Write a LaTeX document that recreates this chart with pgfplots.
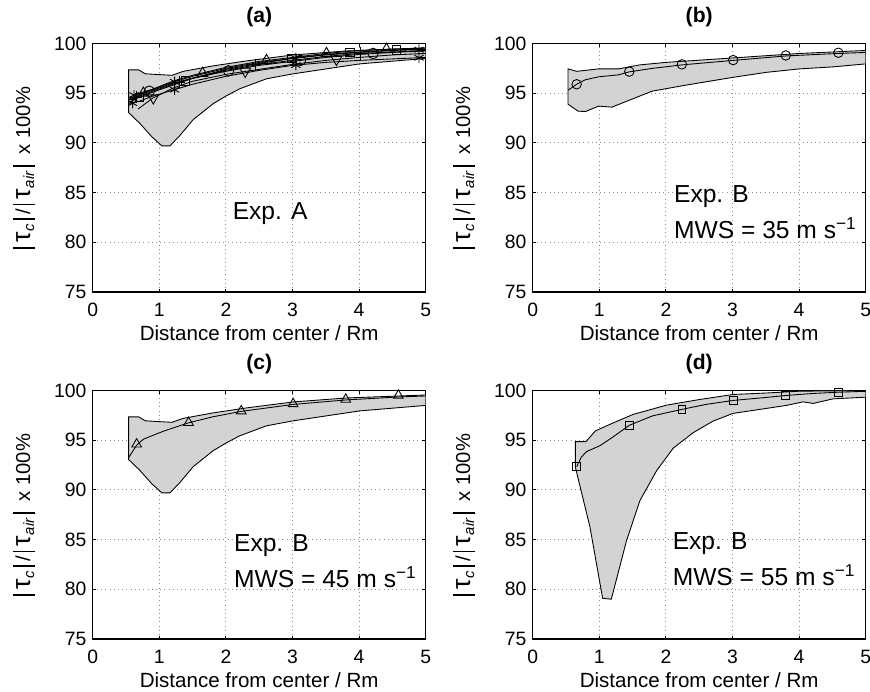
\documentclass[border=0pt]{standalone}
\usepackage{fontspec}
\setmainfont{Liberation Sans}
\usepackage{pgfplots}
\pgfplotsset{compat=1.18}
\definecolor{envgray}{RGB}{211,211,211}
\newcommand{\vb}{\rule[-3pt]{0.9pt}{12.5pt}}
\newcommand{\tauf}{{\fontsize{15}{15}\selectfont τ}}
\newcommand{\sub}[1]{\raisebox{-2.2pt}{\fontsize{8.5}{8.5}\selectfont\itshape #1}}

\tikzset{note/.style={anchor=west, font=\fontsize{14}{16}\selectfont}}

\pgfplotsset{
  panel/.style={
    scale only axis,
    width=6.66cm, height=4.97cm,
    xmin=0, xmax=5, ymin=75, ymax=100,
    xtick={0,1,2,3,4,5}, ytick={75,80,85,90,95,100},
    axis line style={line width=0.6pt},
    major tick length=0.07cm,
    tick style={black, line width=0.5pt},
    grid=major,
    grid style={dotted, gray!90, line width=0.5pt},
    /pgf/number format/assume math mode=true,
    xticklabel style={font=\fontsize{11}{12}\selectfont, yshift=-3pt},
    yticklabel style={font=\fontsize{11}{12}\selectfont},
    xlabel={Distance from center / Rm},
    every axis x label/.style={at={(axis description cs:0.5,-0.165)}, anchor=center,
                               font=\fontsize{11.7}{13}\selectfont},
    ylabel={\vb\kern2.5pt\tauf\kern0.5pt\sub{c}\kern2.5pt\vb\kern2pt/\kern2pt\vb\kern2.5pt\tauf\kern0.5pt\sub{air}\kern2.5pt\vb\ \ x 100\%},
    every axis y label/.style={at={(axis description cs:-0.205,0.5)}, rotate=90, anchor=center,
                               font=\fontsize{11.5}{13}\selectfont},
    every axis title/.style={at={(axis description cs:0.5,1)}, anchor=center, yshift=0.53cm,
                             font=\fontsize{12}{14}\selectfont\bfseries},
  },
  env/.style={fill=envgray, draw=black, line width=0.5pt},
  ln/.style={black, line width=0.5pt, mark=none},
  mk/.style={black, only marks, line width=0.5pt},
}

\begin{document}
\begin{tikzpicture}
\useasboundingbox (0,0) rectangle (17.4,-13.82);

% ---------------- (a) ----------------
\begin{axis}[panel, title={(a)}, at={(1.854cm,-5.84cm)}, anchor=south west]
\addplot[env] coordinates {
  (0.54,97.35) (0.69,97.35) (0.79,96.95) (1.19,96.8) (1.36,97.2) (1.81,97.75)
  (2.31,98.25) (3.01,98.85) (3.81,99.25) (5.0,99.55)
  (5.0,98.5) (4.01,97.95) (3.51,97.45) (3.01,96.95) (2.61,96.45) (2.21,95.45)
  (2.01,94.75) (1.81,93.95) (1.51,92.35) (1.31,90.75) (1.16,89.7) (1.04,89.7)
  (0.89,90.6) (0.71,91.95) (0.54,93.05)
} -- cycle;
% asterisk, lowest
\addplot[ln] coordinates {(0.55,93.9) (0.7,94.2) (0.9,94.7) (1.2,95.3) (1.5,95.9) (2.0,96.7) (2.5,97.3) (3.0,97.8) (3.5,98.1) (4.0,98.3) (4.5,98.45) (5.0,98.6)};
\addplot[mk, mark=asterisk, mark size=3pt] coordinates {(0.60,94.0) (1.23,95.35) (3.05,97.83) (4.90,98.57)};
% plus
\addplot[ln] coordinates {(0.55,94.3) (0.7,94.7) (0.9,95.2) (1.2,95.9) (1.5,96.5) (2.0,97.3) (2.5,97.9) (3.0,98.3) (3.5,98.7) (4.0,99.0) (4.5,99.15) (5.0,99.3)};
\addplot[mk, mark=+, mark size=3.5pt] coordinates {(0.65,94.6) (1.30,96.1) (2.44,97.85) (4.02,99.0)};
% triangle up
\addplot[ln] coordinates {(0.55,94.0) (0.7,94.8) (0.9,95.4) (1.2,96.2) (1.5,96.8) (2.0,97.6) (2.5,98.2) (3.0,98.6) (3.5,99.0) (4.0,99.3) (4.5,99.45) (5.0,99.55)};
\addplot[mk, mark=triangle, mark size=3.5pt] coordinates {(0.76,95.0) (1.65,97.0) (2.61,98.29) (3.51,99.0) (4.41,99.42)};
% triangle down
\addplot[ln] coordinates {(0.68,93.4) (0.9,94.5) (1.2,95.5) (1.5,96.2) (2.0,96.9) (2.5,97.4) (3.0,97.9) (3.5,98.3) (4.0,98.6) (4.5,98.85) (5.0,99.0)};
\addplot[mk, mark=triangle, mark size=3.5pt, mark options={rotate=180}] coordinates {(0.91,94.53) (2.29,97.2) (3.66,98.4)};
% circle
\addplot[ln] coordinates {(0.55,94.4) (0.7,94.9) (0.9,95.3) (1.2,96.0) (1.5,96.5) (2.0,97.2) (2.5,97.8) (3.0,98.2) (3.5,98.6) (4.0,98.9) (4.5,99.1) (5.0,99.25)};
\addplot[mk, mark=o, mark size=3pt] coordinates {(0.85,95.2) (2.04,97.25) (3.12,98.3) (4.21,99.0)};
% square
\addplot[ln] coordinates {(0.55,94.1) (0.7,94.6) (0.9,95.1) (1.2,95.8) (1.5,96.5) (2.0,97.4) (2.5,98.0) (3.0,98.5) (3.5,98.9) (4.0,99.15) (4.5,99.35) (5.0,99.45)};
\addplot[mk, mark=square, mark size=2.4pt] coordinates {(0.70,94.6) (1.39,96.25) (2.99,98.5) (3.86,99.08) (4.56,99.36)};
% asterisk, upper
\addplot[ln] coordinates {(0.55,94.6) (0.7,95.0) (0.9,95.4) (1.2,96.1) (1.5,96.7) (2.0,97.5) (2.5,98.1) (3.0,98.5) (3.5,98.85) (4.0,99.1) (4.5,99.3) (5.0,99.4)};
\addplot[mk, mark=asterisk, mark size=3pt] coordinates {(0.62,94.8) (1.23,96.15) (3.05,98.53) (4.90,99.38)};
\node[note] at (axis cs:2.01,82.9) {Exp. A};
\end{axis}

% ---------------- (b) ----------------
\begin{axis}[panel, title={(b)}, at={(10.654cm,-5.84cm)}, anchor=south west]
\addplot[env] coordinates {
  (0.53,97.45) (0.66,97.2) (0.99,97.45) (1.29,97.45) (1.61,97.85) (2.0,98.1)
  (3.01,98.55) (4.01,99.0) (5.0,99.3)
  (5.0,97.95) (4.51,97.65) (4.01,97.45) (3.51,97.1) (3.01,96.6) (2.29,95.8)
  (1.79,95.2) (1.49,94.4) (1.19,93.6) (0.99,93.7) (0.79,93.15) (0.68,93.2) (0.53,93.9)
} -- cycle;
\addplot[ln] coordinates {(0.53,95.3) (0.66,95.9) (0.79,96.35) (0.99,96.65) (1.29,96.85) (1.45,97.15) (1.8,97.5) (2.24,97.85) (3.01,98.3) (3.80,98.75) (4.59,99.0) (5.0,99.1)};
\addplot[mk, mark=o, mark size=2.7pt] coordinates {(0.66,95.9) (1.45,97.17) (2.24,97.9) (3.01,98.33) (3.80,98.8) (4.59,99.07)};
\node[note] at (axis cs:2.03,84.55) {Exp. B};
\node[note] at (axis cs:2.03,81.4) {MWS = 35 m s\textsuperscript{−1}};
\end{axis}

% ---------------- (c) ----------------
\begin{axis}[panel, title={(c)}, at={(1.854cm,-12.78cm)}, anchor=south west]
\addplot[env] coordinates {
  (0.54,97.35) (0.69,97.35) (0.79,96.95) (1.19,96.8) (1.36,97.2) (1.81,97.75)
  (2.31,98.25) (3.01,98.85) (3.81,99.25) (5.0,99.55)
  (5.0,98.5) (4.01,97.95) (3.51,97.45) (3.01,96.95) (2.61,96.45) (2.21,95.45)
  (2.01,94.75) (1.81,93.95) (1.51,92.35) (1.31,90.75) (1.16,89.7) (1.04,89.7)
  (0.89,90.6) (0.71,91.95) (0.54,93.05)
} -- cycle;
\addplot[ln] coordinates {(0.54,93.25) (0.66,94.5) (0.76,95.1) (1.06,95.9) (1.44,96.75) (1.8,97.35) (2.23,97.9) (3.01,98.6) (3.80,99.05) (4.59,99.35) (5.0,99.45)};
\addplot[mk, mark=triangle, mark size=3.2pt] coordinates {(0.66,94.6) (1.44,96.76) (2.23,97.93) (3.01,98.66) (3.80,99.1) (4.59,99.5)};
\node[note] at (axis cs:2.03,84.4) {Exp. B};
\node[note] at (axis cs:2.03,81.2) {MWS = 45 m s\textsuperscript{−1}};
\end{axis}

% ---------------- (d) ----------------
\begin{axis}[panel, title={(d)}, at={(10.654cm,-12.78cm)}, anchor=south west]
\addplot[env] coordinates {
  (0.64,92.3) (0.64,94.86) (0.80,94.86) (0.94,95.93) (1.16,96.6) (1.51,97.6)
  (2.01,98.53) (2.51,99.1) (3.01,99.6) (3.51,99.75) (4.01,99.93) (5.0,100)
  (5.0,99.33) (4.51,99.16) (4.21,98.7) (4.06,98.86) (3.81,98.5) (3.41,98.1)
  (3.01,97.7) (2.71,96.93) (2.41,95.76) (2.11,94.2) (1.86,91.93) (1.61,88.93)
  (1.41,84.93) (1.18,79.0) (1.05,79.1) (0.86,86.26)
} -- cycle;
\addplot[ln] coordinates {(0.66,92.33) (0.73,93.3) (0.81,93.86) (1.01,94.45) (1.2,95.3) (1.45,96.5) (1.8,97.45) (2.24,98.1) (2.6,98.6) (3.01,99.0) (3.5,99.3) (3.80,99.5) (4.2,99.7) (4.59,99.83) (5.0,99.92)};
\addplot[mk, mark=square, mark size=2.2pt] coordinates {(0.66,92.33) (1.45,96.5) (2.24,98.1) (3.01,99.0) (3.80,99.5) (4.59,99.83)};
\node[note] at (axis cs:2.01,84.6) {Exp. B};
\node[note] at (axis cs:2.01,81.4) {MWS = 55 m s\textsuperscript{−1}};
\end{axis}
\end{tikzpicture}
\end{document}
